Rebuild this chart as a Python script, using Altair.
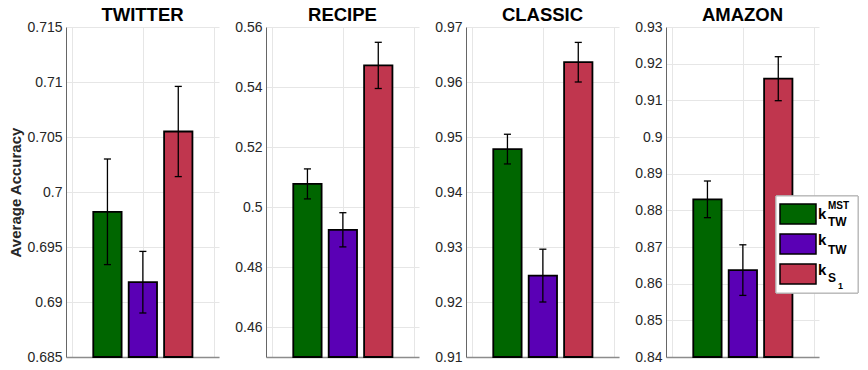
import altair as alt
import pandas as pd

datasets = ["TWITTER", "RECIPE", "CLASSIC", "AMAZON"]
methods = ["kMST", "kTW", "kS1"]
positions = [1, 2, 3]
colors = ["#006600", "#5a00b5", "#c0364e"]

means = {
    "TWITTER": [0.6982, 0.6918, 0.7055],
    "RECIPE": [0.5077, 0.4924, 0.5472],
    "CLASSIC": [0.9478, 0.9248, 0.9636],
    "AMAZON": [0.8830, 0.8637, 0.9159],
}
errs = {
    "TWITTER": [0.0048, 0.0028, 0.0041],
    "RECIPE": [0.0050, 0.0057, 0.0077],
    "CLASSIC": [0.0027, 0.0048, 0.0036],
    "AMAZON": [0.0050, 0.0069, 0.0060],
}
y_domains = {
    "TWITTER": [0.685, 0.715],
    "RECIPE": [0.45, 0.56],
    "CLASSIC": [0.91, 0.97],
    "AMAZON": [0.84, 0.93],
}
y_ticks = {
    "TWITTER": [0.685, 0.69, 0.695, 0.7, 0.705, 0.71, 0.715],
    "RECIPE": [0.46, 0.48, 0.5, 0.52, 0.54, 0.56],
    "CLASSIC": [0.91, 0.92, 0.93, 0.94, 0.95, 0.96, 0.97],
    "AMAZON": [0.84, 0.85, 0.86, 0.87, 0.88, 0.89, 0.9, 0.91, 0.92, 0.93],
}

FONT = "Liberation Sans"
W, H = 153, 330
BAR_HALF = 0.4
CAP_HALF = 0.1
x_scale = alt.Scale(domain=[-0.17, 4.15], nice=False, zero=False)
color_scale = alt.Scale(domain=methods, range=colors)


def panel(name, first):
    df = pd.DataFrame({
        "method": methods,
        "pos": positions,
        "mean": means[name],
        "err": errs[name],
    })
    base = alt.Chart(df).transform_calculate(
        lo="datum.pos - %f" % BAR_HALF,
        hi="datum.pos + %f" % BAR_HALF,
        clo="datum.pos - %f" % CAP_HALF,
        chi="datum.pos + %f" % CAP_HALF,
        elo="datum.mean - datum.err",
        ehi="datum.mean + datum.err",
    )
    ysc = alt.Scale(domain=y_domains[name], nice=False, zero=False)
    yaxis = alt.Axis(
        values=y_ticks[name], tickCount=30, format="~g", labelFontSize=14,
        labelFont=FONT, labelColor="#262626", ticks=False, labelPadding=4,
        labelOverlap=False, labelFlush=False,
        domainColor="#666666", domainWidth=1, gridColor="#e6e6e6",
        title="Average Accuracy" if first else None,
        titleFont=FONT, titleFontSize=15, titleFontWeight="bold",
        titleColor="#262626", titlePadding=3,
    )
    xaxis = alt.Axis(values=[0, 2, 4], labels=False, ticks=False, title=None,
                     domainColor="#8c8c8c", domainWidth=1.5, gridColor="#e6e6e6")
    bars = base.mark_bar(stroke="black", strokeWidth=1.8).encode(
        x=alt.X("lo:Q", scale=x_scale, axis=xaxis),
        x2="hi:Q",
        y=alt.Y("mean:Q", scale=ysc, axis=yaxis),
        y2=alt.datum(y_domains[name][0]),
        fill=alt.Fill("method:N", scale=color_scale, legend=None),
    )
    stem = base.mark_rule(color="black", strokeWidth=1.3).encode(
        x="pos:Q", y="elo:Q", y2="ehi:Q")
    cap_lo = base.mark_rule(color="black", strokeWidth=1.3).encode(
        x="clo:Q", x2="chi:Q", y="elo:Q")
    cap_hi = base.mark_rule(color="black", strokeWidth=1.3).encode(
        x="clo:Q", x2="chi:Q", y="ehi:Q")
    layers = [bars, stem, cap_lo, cap_hi]
    if name == "AMAZON":
        layers += legend_layers()
    return alt.layer(*layers).properties(
        width=W, height=H,
        title=alt.TitleParams(name, font=FONT, fontSize=18.5, fontWeight="bold",
                              color="black", anchor="middle", offset=-4),
    )


def legend_layers():
    ldf = pd.DataFrame({"method": methods, "color": colors})
    out = []
    box = alt.Chart(ldf).mark_rect(fill="white", stroke="#b4b4b4", strokeWidth=1).encode(
        x=alt.value(110), x2=alt.value(192), y=alt.value(169), y2=alt.value(266))
    out.append(box)
    tops = [177, 207, 237]
    for i, m in enumerate(methods):
        sw = alt.Chart(ldf).transform_filter(alt.datum.method == m).mark_rect(
            fill=colors[i], stroke="black", strokeWidth=1.5).encode(
            x=alt.value(114), x2=alt.value(150),
            y=alt.value(tops[i]), y2=alt.value(tops[i] + 20))
        out.append(sw)

    def txt(s, x, y, size):
        return alt.Chart(ldf).transform_filter(alt.datum.method == methods[0]).mark_text(
            text=s, font=FONT, fontSize=size, fontWeight="bold", color="black",
            align="left", baseline="alphabetic").encode(x=alt.value(x), y=alt.value(y))

    out += [
        txt("k", 152, 192, 15), txt("MST", 162, 182, 10), txt("TW", 162, 199, 12),
        txt("k", 152, 218, 15), txt("TW", 162, 227, 12),
        txt("k", 152, 248, 15), txt("S", 162, 255, 12), txt("1", 172, 262, 9),
    ]
    return out


panels = [panel(n, i == 0) for i, n in enumerate(datasets)]
chart = alt.hconcat(*panels, spacing=47, bounds="flush").properties(
    padding={"left": 0, "top": -3, "right": 0, "bottom": 0},
    background="white",
).configure_view(stroke=None)

chart.save("out.html", embed_options={"renderer": "svg", "actions": False})
